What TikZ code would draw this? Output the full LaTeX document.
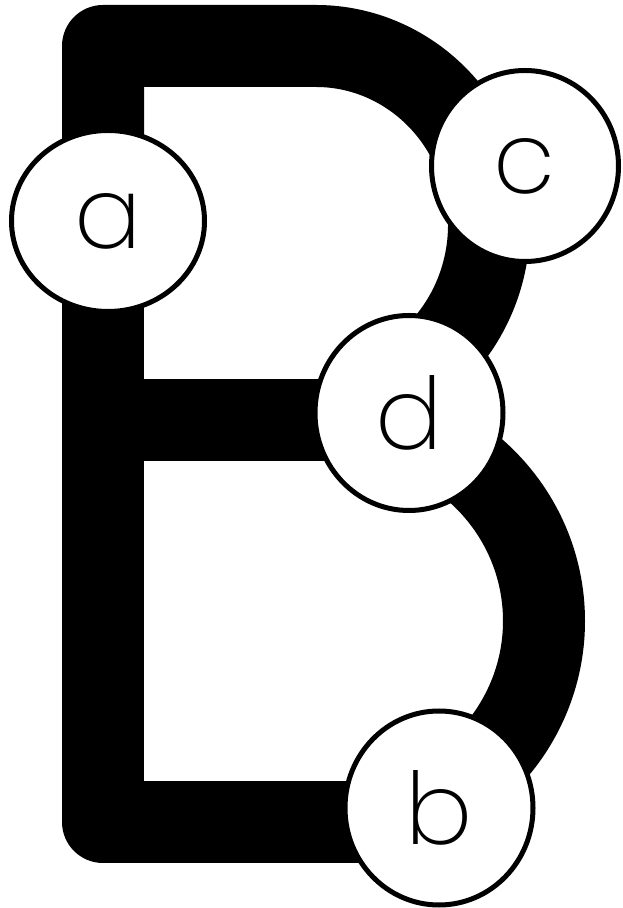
\documentclass[tikz,border=0pt]{standalone}
\usepackage{fontspec}
\setmainfont{Poppins ExtraLight}
\usetikzlibrary{shapes.geometric,backgrounds,calc}
\tikzset{
  bone/.style={line width=82pt, line join=round},
  ring/.style={ellipse, draw, line width=5pt, fill=white, inner sep=0pt,
    font=\fontsize{100}{100}\selectfont},
}

\begin{document}
\begin{tikzpicture}[x=1pt,y=1pt]
  \useasboundingbox (0,0) rectangle (622,908);
  % the four rings
  \node[ring,minimum width=193pt,minimum height=181pt] (a) at (108,687) {a};
  \node[ring,minimum width=187pt,minimum height=191pt] (c) at (525,742) {c};
  \node[ring,minimum width=188pt,minimum height=195pt] (d) at (409,495) {d};
  \node[ring,minimum width=188pt,minimum height=194pt] (b) at (439,100) {b};
  % stem corners and bowl centres
  \coordinate (tl) at (103,862);
  \coordinate (bl) at (103,86);
  \coordinate (mid) at (103,488);
  \coordinate (uo) at (316,683);
  \coordinate (lo) at (341,287);
  \coordinate (uc) at ($(uo)+(16:173 and 179)$);
  \begin{scope}[on background layer]
    \draw[bone] (tl |- a) -- (tl) -- (uo |- tl)
      arc[start angle=90,end angle=16,x radius=173,y radius=179];
    \draw[bone] (uc) arc[start angle=16,end angle=-62,x radius=173,y radius=179];
    \draw[bone] (d |- mid) -- (mid);
    \draw[bone] (lo |- mid) arc[start angle=90,end angle=-70,x radius=203,y radius=201];
    \draw[bone] (b |- bl) -- (bl) -- (tl |- a);
  \end{scope}
\end{tikzpicture}
\end{document}
